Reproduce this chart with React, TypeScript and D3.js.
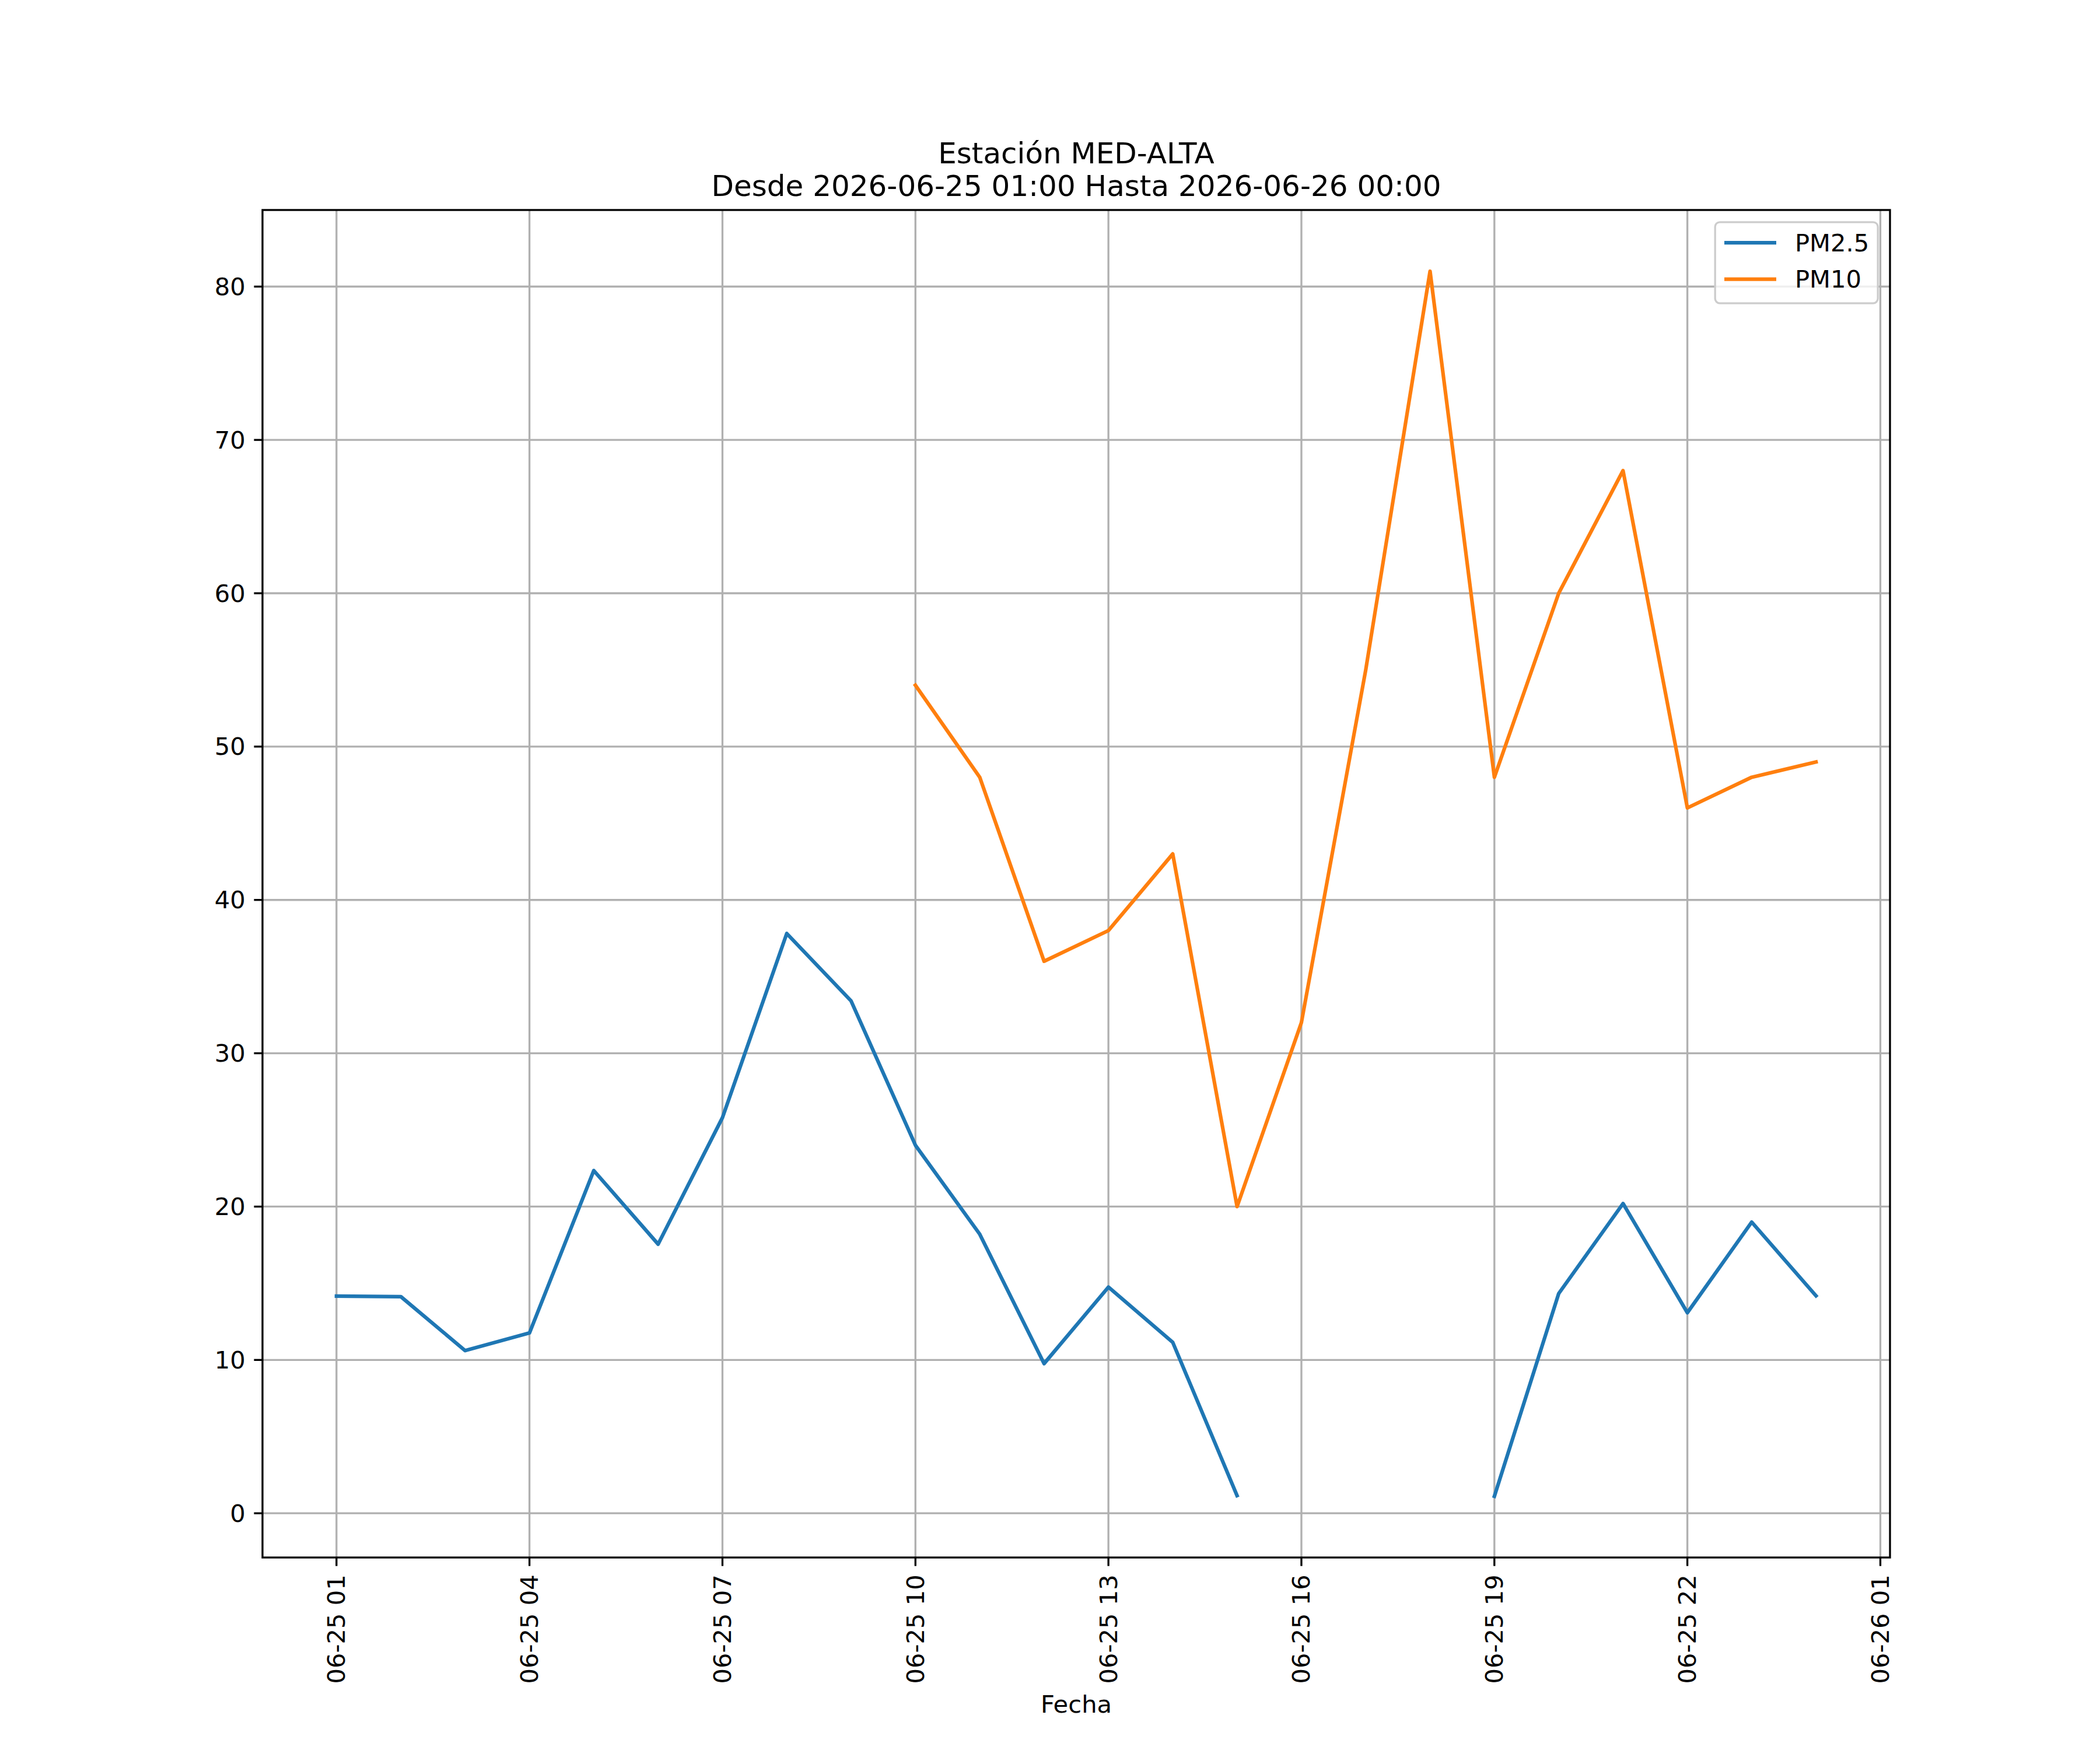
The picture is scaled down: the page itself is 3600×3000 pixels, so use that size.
import React from "react";
import * as d3 from "d3";

const hours: string[] = [
  "2026-06-25T01:00:00Z", "2026-06-25T02:00:00Z", "2026-06-25T03:00:00Z", "2026-06-25T04:00:00Z",
  "2026-06-25T05:00:00Z", "2026-06-25T06:00:00Z", "2026-06-25T07:00:00Z", "2026-06-25T08:00:00Z",
  "2026-06-25T09:00:00Z", "2026-06-25T10:00:00Z", "2026-06-25T11:00:00Z", "2026-06-25T12:00:00Z",
  "2026-06-25T13:00:00Z", "2026-06-25T14:00:00Z", "2026-06-25T15:00:00Z", "2026-06-25T16:00:00Z",
  "2026-06-25T17:00:00Z", "2026-06-25T18:00:00Z", "2026-06-25T19:00:00Z", "2026-06-25T20:00:00Z",
  "2026-06-25T21:00:00Z", "2026-06-25T22:00:00Z", "2026-06-25T23:00:00Z", "2026-06-26T00:00:00Z",
];

const pm25: (number | null)[] = [
  14.16, 14.13, 10.61, 11.76, 22.35, 17.55, 25.8, 37.81, 33.41, 24.0, 18.2, 9.76,
  14.75, 11.15, 1.15, null, null, null, 1.11, 14.33, 20.2, 13.08, 18.99, 14.18,
];

const pm10: (number | null)[] = [
  null, null, null, null, null, null, null, null, null, 54, 48, 36,
  38, 43, 20, 32, 55, 81, 48, 60, 68, 46, 48, 49,
];

const yTicks: number[] = [0, 10, 20, 30, 40, 50, 60, 70, 80];
const titleLines: string[] = ["Estación MED-ALTA", "Desde 2026-06-25 01:00 Hasta 2026-06-26 00:00"];
const seriesNames: string[] = ["PM2.5", "PM10"];
const seriesColors: string[] = ["#1f77b4", "#ff7f0e"];
const xLabel = "Fecha";

const W = 3600;
const H = 3000;
const left = 450;
const right = 3240;
const top = 360;
const bottom = 2670;
const FS = 41.67;
const LW = 6.25;
const THIN = 3.33;
const TICK = 14.58;
const FONT = "DejaVu Sans, sans-serif";

export default function App() {
  const dates = hours.map((h) => new Date(h));
  const t0 = +dates[0];
  const t1 = +dates[dates.length - 1];
  const xm = (t1 - t0) * 0.05;
  const x = d3.scaleUtc().domain([new Date(t0 - xm), new Date(t1 + xm)]).range([left, right]);

  const all = [...pm25, ...pm10].filter((v): v is number => v != null);
  const ymin = d3.min(all)!;
  const ymax = d3.max(all)!;
  const ym = (ymax - ymin) * 0.05;
  const y = d3.scaleLinear().domain([ymin - ym, ymax + ym]).range([bottom, top]);

  const xTicks = d3.utcHour.range(new Date("2026-06-25T01:00:00Z"), new Date("2026-06-26T01:00:01Z"), 3);
  const fmt = d3.utcFormat("%m-%d %H");

  const line = d3
    .line<number | null>()
    .defined((d) => d != null)
    .x((_, i) => x(dates[i]))
    .y((d) => y(d as number));

  const series = [pm25, pm10];
  const cx = (left + right) / 2;

  const legX = right - 20.83;
  const legW = 279;
  const legY = top + 20.83;
  const legH = 139;

  return (
    <svg width={W} height={H} style={{ position: "absolute", left: 0, top: 0, display: "block", background: "#fff" }} fontFamily={FONT}>
      <rect x={0} y={0} width={W} height={H} fill="#fff" />
      {/* grid */}
      {xTicks.map((t, i) => (
        <line key={"gx" + i} x1={x(t)} x2={x(t)} y1={top} y2={bottom} stroke="#b0b0b0" strokeWidth={THIN} />
      ))}
      {yTicks.map((v, i) => (
        <line key={"gy" + i} x1={left} x2={right} y1={y(v)} y2={y(v)} stroke="#b0b0b0" strokeWidth={THIN} />
      ))}
      {/* series */}
      <g clipPath="url(#clip)">
        {series.map((s, k) => (
          <path key={"s" + k} d={line(s) || ""} fill="none" stroke={seriesColors[k]} strokeWidth={LW} strokeLinejoin="round" strokeLinecap="square" />
        ))}
      </g>
      <defs>
        <clipPath id="clip">
          <rect x={left} y={top} width={right - left} height={bottom - top} />
        </clipPath>
      </defs>
      {/* spines */}
      <rect x={left} y={top} width={right - left} height={bottom - top} fill="none" stroke="#000" strokeWidth={THIN} strokeLinejoin="miter" />
      {/* x ticks */}
      {xTicks.map((t, i) => (
        <g key={"xt" + i}>
          <line x1={x(t)} x2={x(t)} y1={bottom} y2={bottom + TICK} stroke="#000" strokeWidth={THIN} />
          <text
            transform={`translate(${x(t)},${bottom + TICK + 14.58}) rotate(-90)`}
            textAnchor="end"
            dominantBaseline="central"
            fontSize={FS}
            fill="#000"
          >
            {fmt(t)}
          </text>
        </g>
      ))}
      {/* y ticks */}
      {yTicks.map((v, i) => (
        <g key={"yt" + i}>
          <line x1={left - TICK} x2={left} y1={y(v)} y2={y(v)} stroke="#000" strokeWidth={THIN} />
          <text x={left - TICK - 14.58} y={y(v)} textAnchor="end" dominantBaseline="central" fontSize={FS} fill="#000">
            {v}
          </text>
        </g>
      ))}
      {/* x label */}
      <text x={cx} y={2936} textAnchor="middle" fontSize={FS} fill="#000">
        {xLabel}
      </text>
      {/* title */}
      {titleLines.map((t, i) => (
        <text key={"tt" + i} x={cx} y={280 + i * 56} textAnchor="middle" fontSize={50} fill="#000">
          {t}
        </text>
      ))}
      {/* legend */}
      <rect x={legX - legW} y={legY} width={legW} height={legH} rx={8} ry={8} fill="#fff" fillOpacity={0.8} stroke="#cccccc" strokeWidth={THIN} />
      {seriesNames.map((n, i) => (
        <g key={"lg" + i}>
          <line x1={2956} x2={3045} y1={416 + i * 62.7} y2={416 + i * 62.7} stroke={seriesColors[i]} strokeWidth={LW} />
          <text x={3077} y={416 + i * 62.7} dominantBaseline="central" fontSize={FS} fill="#000">
            {n}
          </text>
        </g>
      ))}
    </svg>
  );
}
